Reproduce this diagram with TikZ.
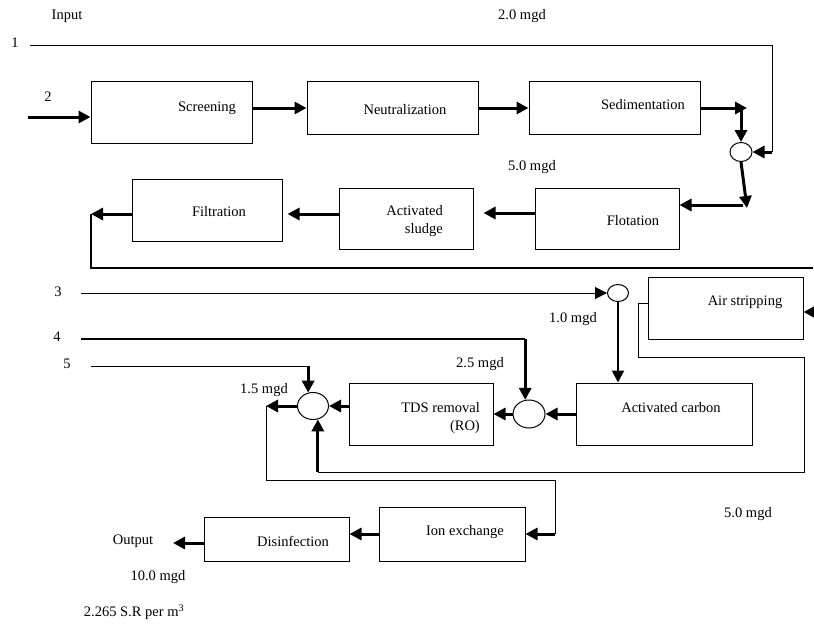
\documentclass[tikz,border=0pt]{standalone}
\usepackage{fontspec}
\setmainfont{Liberation Serif}
\usetikzlibrary{arrows.meta,shapes.geometric}
\begin{document}
\begin{tikzpicture}[x=1pt,y=-1pt,
  box/.style={draw, line width=1pt, inner sep=0pt},
  circ/.style={draw, ellipse, line width=1pt, inner sep=0pt},
  lbl/.style={inner sep=0pt, font=\fontsize{14.5}{18}\selectfont},
  thinline/.style={line width=1pt},
  thickline/.style={line width=3pt},
  arr/.style={-{Triangle[length=12pt,width=12pt]}}
]
\useasboundingbox (0,0) rectangle (814,624);
% boxes
\node[box, minimum width=161pt, minimum height=62pt] (scr) at (171.5,112) {};
\node[box, minimum width=171pt, minimum height=53pt] (neu) at (392.5,107.5) {};
\node[box, minimum width=171pt, minimum height=53pt] (sed) at (614.5,107.5) {};
\node[box, minimum width=144pt, minimum height=61pt] (flo) at (607,218.5) {};
\node[box, minimum width=134pt, minimum height=61pt] (asl) at (406,218.5) {};
\node[box, minimum width=150pt, minimum height=62pt] (fil) at (207,210) {};
\node[box, minimum width=155pt, minimum height=62pt] (air) at (725.5,308) {};
\node[box, minimum width=144pt, minimum height=62pt] (tds) at (421,414) {};
\node[box, minimum width=176pt, minimum height=62pt] (acc) at (664,414) {};
\node[box, minimum width=146pt, minimum height=54pt] (ion) at (452,534) {};
\node[box, minimum width=145pt, minimum height=44pt] (dis) at (276.5,539) {};
% mixing points
\node[circ, minimum width=22pt, minimum height=19pt] (c1) at (741,152) {};
\node[circ, minimum width=21pt, minimum height=17pt] (c4) at (618,293) {};
\node[circ, minimum width=32pt, minimum height=28pt] (c3) at (529,414) {};
\node[circ, minimum width=31pt, minimum height=27pt] (c2) at (313,406) {};
% texts
\node[lbl] (tinput) at (67,16) {Input};
\node[lbl] (t1) at (15,43) {1};
\node[lbl] (tq1) at (522,16) {2.0 mgd};
\node[lbl] (t2) at (48,97) {2};
\node[lbl] (tscr) at (207,108) {Screening};
\node[lbl] (tneu) at (405,110) {Neutralization};
\node[lbl] (tsed) at (643,105) {Sedimentation};
\node[lbl] (tq2) at (532,167) {5.0 mgd};
\node[lbl] (tfil) at (219,212) {Filtration};
\node[lbl, anchor=east, align=right] (tasl) at (443,221) {Activated\\sludge};
\node[lbl] (tflo) at (633,221) {Flotation};
\node[lbl] (t3) at (58,292) {3};
\node[lbl] (t4) at (57,337) {4};
\node[lbl] (t5) at (67,364) {5};
\node[lbl] (tair) at (745,302) {Air stripping};
\node[lbl] (tq3) at (573,319) {1.0 mgd};
\node[lbl] (tq4) at (480,364) {2.5 mgd};
\node[lbl] (tq5) at (264,390) {1.5 mgd};
\node[lbl, anchor=east, align=right] (ttds) at (480,418) {TDS removal\\(RO)};
\node[lbl] (tacc) at (671,408) {Activated carbon};
\node[lbl] (tq6) at (748,514) {5.0 mgd};
\node[lbl] (tion) at (465,532) {Ion exchange};
\node[lbl] (tout) at (133,541) {Output};
\node[lbl] (tdis) at (293,541) {Disinfection};
\node[lbl] (tq7) at (158,577) {10.0 mgd};
\node[lbl] (tcost) at (134,612) {2.265 S.R per m\textsuperscript{3}};
% coordinates for free ends
\coordinate (in1) at (30,45);
\coordinate (k1) at (772,152);
\coordinate (in2) at (28,117);
\coordinate (sedr) at (747,108);
\coordinate (c1b) at (747,208);
\coordinate (flr) at (743,205);
\coordinate (fl) at (91,214);
\coordinate (re) at (813,268);
\coordinate (ain) at (814,312);
\coordinate (lpa) at (638,303);
\coordinate (lpb) at (638,357);
\coordinate (lpc) at (804,357);
\coordinate (lpd) at (804,472);
\coordinate (in3) at (81,293);
\coordinate (in4) at (81,339);
\coordinate (in5) at (91,366);
\coordinate (c2l) at (266,406);
\coordinate (ionr) at (555,534);
\coordinate (out) at (173,543);
% connectors
\draw[thinline] (in1) -| (k1);
\draw[thickline,arr] (k1) -- (c1.east);
\draw[thickline,arr] (in2) -- (scr.west |- in2);
\draw[thickline,arr] (scr.east |- 0,108) -- (neu.west |- 0,108);
\draw[thickline,arr] (neu.east |- 0,108) -- (sed.west |- 0,108);
\draw[thickline,arr] (sed.east |- sedr) -- (sedr);
\draw[thickline,arr] (c1.north |- sedr) -- (c1.north);
\draw[thickline,arr] (c1.south) -- (c1b);
\draw[thickline,arr] (flr) -- (flo.east |- flr);
\draw[thickline,arr,shorten >=10pt] (flo.west |- 0,213) -- (asl.east |- 0,213);
\draw[thickline,arr,shorten >=5pt] (asl.west |- 0,214) -- (fil.east |- 0,214);
\draw[thickline,arr] (fil.west |- fl) -- (fl);
\draw[line width=1.8pt] (fl) |- (re);
\draw[thickline,arr] (ain) -- (air.east |- ain);
\draw[thinline] (air.west |- lpa) -- (lpa) -- (lpb) -- (lpc) -- (lpd) -- (c2.-70 |- lpd);
\draw[thickline,arr] (c2.-70 |- lpd) -- (c2.-70);
\draw[thinline,arr] (in3) -- (c4.west);
\draw[line width=2pt,arr] (c4.south) -- (c4.south |- acc.north);
\draw[line width=1.5pt] (in4) -- (c3.105 |- in4);
\draw[thickline,arr] (c3.105 |- in4) -- (c3.105);
\draw[thinline] (in5) -- (c2.110 |- in5);
\draw[thickline,arr] (c2.110 |- in5) -- (c2.110);
\draw[thickline,arr] (acc.west |- c3.east) -- (c3.east);
\draw[thickline,arr] (c3.west) -- (tds.east |- c3.west);
\draw[thickline,arr] (tds.west |- c2.east) -- (c2.east);
\draw[thickline,arr] (c2.west) -- (c2l);
\draw[thinline] (c2l) -- (c2l |- 0,480) -| (ionr);
\draw[thickline,arr] (ionr) -- (ion.east |- ionr);
\draw[thickline,arr] (ion.west |- ionr) -- (dis.east |- ionr);
\draw[thickline,arr] (dis.west |- out) -- (out);
\end{tikzpicture}
\end{document}
